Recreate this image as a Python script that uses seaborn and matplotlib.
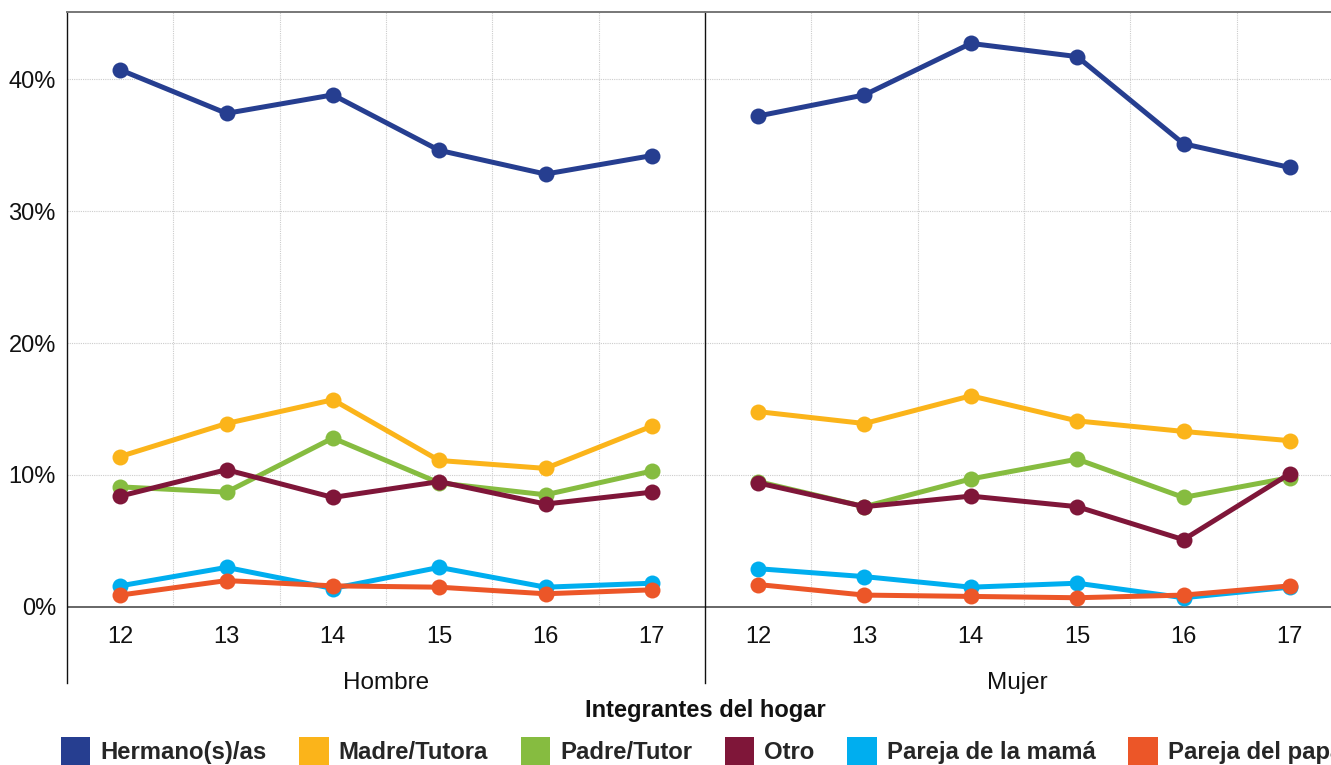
import numpy as np
import pandas as pd
import seaborn as sns
import matplotlib.pyplot as plt
from matplotlib.patches import Patch

edades = [12, 13, 14, 15, 16, 17]
sexos = ["Hombre", "Mujer"]
integrantes = ["Hermano(s)/as", "Madre/Tutora", "Padre/Tutor", "Otro",
               "Pareja de la mamá", "Pareja del papá"]
colores = ["#263E90", "#FBB41A", "#86BC40", "#7F1639", "#00AEEF", "#EC5628"]

# porcentajes (Hombre, Mujer)
hermano_h = [40.7, 37.4, 38.8, 34.6, 32.8, 34.2]
hermano_m = [37.2, 38.8, 42.7, 41.7, 35.1, 33.3]
madre_h = [11.4, 13.9, 15.7, 11.1, 10.5, 13.7]
madre_m = [14.8, 13.9, 16.0, 14.1, 13.3, 12.6]
padre_h = [9.1, 8.7, 12.8, 9.4, 8.5, 10.3]
padre_m = [9.5, 7.6, 9.7, 11.2, 8.3, 9.8]
otro_h = [8.4, 10.4, 8.3, 9.5, 7.8, 8.7]
otro_m = [9.4, 7.6, 8.4, 7.6, 5.1, 10.1]
pmama_h = [1.6, 3.0, 1.4, 3.0, 1.5, 1.8]
pmama_m = [2.9, 2.3, 1.5, 1.8, 0.7, 1.5]
ppapa_h = [0.9, 2.0, 1.6, 1.5, 1.0, 1.3]
ppapa_m = [1.7, 0.9, 0.8, 0.7, 0.9, 1.6]

series = {
    "Hombre": [hermano_h, madre_h, padre_h, otro_h, pmama_h, ppapa_h],
    "Mujer": [hermano_m, madre_m, padre_m, otro_m, pmama_m, ppapa_m],
}

rows = []
for s in sexos:
    for nombre, vals in zip(integrantes, series[s]):
        for e, v in zip(edades, vals):
            rows.append({"sexo": s, "integrante": nombre, "edad": e, "pct": v})
df = pd.DataFrame(rows)

sns.set_theme(style="white")
plt.rcParams["font.family"] = ["Liberation Sans", "DejaVu Sans"]

fig = plt.figure(figsize=(13.31, 7.65), dpi=100)
ymin, ymax = -5.76, 45.08
pal = dict(zip(integrantes, colores))

axes = []
for i, s in enumerate(sexos):
    ax = fig.add_axes([(67 + 638 * i) / 1331, 1 - 683 / 765, 638 / 1331, 671 / 765])
    axes.append(ax)
    ax.axhline(0, color="#666666", lw=1.4, zorder=1)
    for yv in [10, 20, 30, 40]:
        ax.axhline(yv, color="#cccccc", lw=0.8, ls=(0, (1, 1)), zorder=0)
    mids = [e + 0.5 for e in edades[:-1]]
    ax.vlines(mids, 0, ymax, color="#cccccc", lw=0.8, ls=(0, (1, 1)), zorder=0)

    sns.lineplot(data=df[df.sexo == s], x="edad", y="pct", hue="integrante",
                 hue_order=integrantes, palette=pal, marker="o", markersize=11.5,
                 markeredgewidth=0, linewidth=3.6, errorbar=None, legend=False,
                 ax=ax, zorder=3)

    ax.set_xlim(11.5, 17.5)
    ax.set_ylim(ymin, ymax)
    ax.set_xticks([])
    ax.set_xlabel("")
    ax.set_ylabel("")
    for e in edades:
        ax.text(e, -2.3, str(e), ha="center", va="center", fontsize=17, color="#111111")
    ax.text(0.5 if i == 0 else 0.49, 0.0, s, transform=ax.transAxes,
            ha="center", va="center", fontsize=17.5, color="#111111")

    for side in ["bottom", "right"]:
        ax.spines[side].set_visible(False)
    ax.spines["top"].set_color("#777777")
    ax.spines["top"].set_linewidth(1.4)
    ax.spines["left"].set_color("#111111")
    ax.spines["left"].set_linewidth(1.0)

    if i == 0:
        ax.set_yticks([0, 10, 20, 30, 40])
        ax.set_yticklabels([f"{v}%" for v in [0, 10, 20, 30, 40]], fontsize=17, color="#111111")
        ax.tick_params(axis="y", length=0, pad=8)
    else:
        ax.set_yticks([])

fig.text(705 / 1331, 1 - 710 / 765, "Integrantes del hogar", ha="center", va="center",
         fontsize=17, fontweight="bold", color="#111111")

handles = [Patch(facecolor=c, edgecolor="none", label=n) for n, c in zip(integrantes, colores)]
fig.legend(handles=handles, loc="upper left", bbox_to_anchor=(61 / 1331, 1 - 737 / 765),
           ncol=6, frameon=False, borderpad=0, borderaxespad=0,
           handlelength=1.22, handleheight=1.45, handletextpad=0.42, columnspacing=1.38,
           prop={"size": 17.2, "weight": "bold"})

fig.savefig("out.png", dpi=100)
